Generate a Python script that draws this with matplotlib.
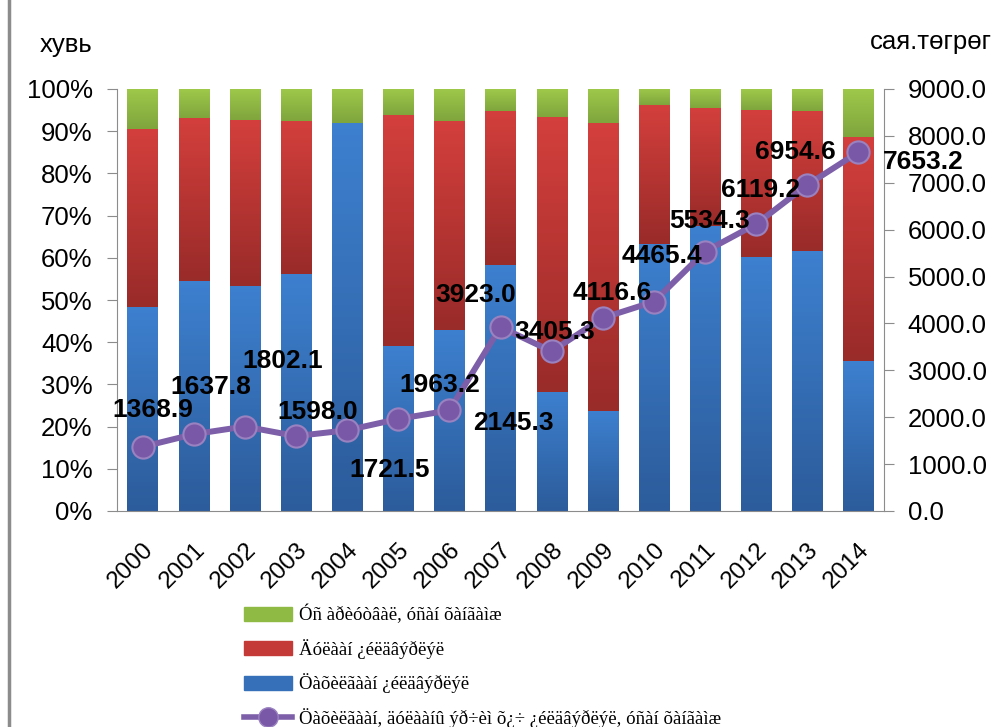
import numpy as np
import matplotlib
matplotlib.use('Agg')
import matplotlib.pyplot as plt
from matplotlib.lines import Line2D
from matplotlib.patches import Patch
from matplotlib.colors import LinearSegmentedColormap
from matplotlib.transforms import ScaledTranslation

years = ["2000", "2001", "2002", "2003", "2004", "2005", "2006", "2007",
         "2008", "2009", "2010", "2011", "2012", "2013", "2014"]
# share of each group, percent
blue_pct = [48.3, 54.5, 53.4, 56.2, 91.9, 39.2, 43.0, 58.3, 28.3, 23.7, 63.3, 67.6, 60.1, 61.5, 35.5]
red_pct = [42.2, 38.7, 39.2, 36.2, 0.0, 54.6, 49.4, 36.5, 65.1, 68.2, 32.9, 28.0, 35.0, 33.3, 53.1]
green_pct = [9.5, 6.8, 7.4, 7.6, 8.1, 6.2, 7.6, 5.2, 6.6, 8.1, 3.8, 4.4, 4.9, 5.2, 11.4]
total = [1368.9, 1637.8, 1802.1, 1598.0, 1721.5, 1963.2, 2145.3, 3923.0,
         3405.3, 4116.6, 4465.4, 5534.3, 6119.2, 6954.6, 7653.2]
# label offsets in pixels
lab_dx = [10, 17, 38, 22, 43, 42, 64, -25, 3, 9, 8, 5, 4, -12, 65]
lab_dy = [37, 47, 66, 24, -40, 34, -13, 32, 19, 25, 46, 31, 34, 33, -10]

names = ["Óñ àðèóòâàë, óñàí õàíãàìæ",
         "Äóëààí ¿éëäâýðëýë",
         "Öàõèëãààí ¿éëäâýðëýë",
         "Öàõèëãààí, äóëààíû ýð÷èì õ¿÷ ¿éëäâýðëýë, óñàí õàíãàìæ"]

plt.rcParams['font.family'] = ['Liberation Sans', 'DejaVu Sans']
FS = 18.5

fig = plt.figure(figsize=(9.95, 7.27), dpi=100)
ax = fig.add_axes([117 / 995, 1 - 511 / 727, 767 / 995, 422 / 727])
ax2 = ax.twinx()

x = np.arange(len(years))
b = np.array(blue_pct)
r = np.array(red_pct)
g = np.array(green_pct)

def grad_bars(vals, bottom, top_c, bot_c):
    bars = ax.bar(x, vals, 0.59, bottom=bottom, color=bot_c, linewidth=0, zorder=2)
    cmap = LinearSegmentedColormap.from_list('g', [bot_c, top_c])
    grad = np.linspace(0, 1, 64).reshape(-1, 1)
    for p in bars:
        if p.get_height() <= 0:
            continue
        x0, y0 = p.get_x(), p.get_y()
        im = ax.imshow(grad, cmap=cmap, origin='lower', aspect='auto',
                       extent=[x0, x0 + p.get_width(), y0, y0 + p.get_height()],
                       zorder=2.1)
        im.set_clip_path(p)
    return bars

grad_bars(b, 0, '#3d80cf', '#2c5c9b')
grad_bars(r, b, '#d33f3c', '#992b29')
grad_bars(g, b + r, '#9ec94a', '#7fa53d')

ax.set_xlim(-0.5, len(years) - 0.5)
ax.set_ylim(0, 100)
ax.set_yticks(np.arange(0, 101, 10))
ax.set_yticklabels(["%d%%" % v for v in range(0, 101, 10)], fontsize=FS)
ax.set_xticks(x)
ax.set_xticklabels(years, rotation=45, ha='right', va='top', fontsize=17.5,
                   rotation_mode='anchor')
shift = ScaledTranslation(-4 / 100, 0, fig.dpi_scale_trans)
for lbl in ax.get_xticklabels():
    lbl.set_transform(lbl.get_transform() + shift)
ax.tick_params(axis='x', length=0, pad=20)
ax.tick_params(axis='y', length=7, color='#8c8c8c', pad=10.5)
for s in ['top', 'right']:
    ax.spines[s].set_visible(False)
for s in ['left', 'bottom']:
    ax.spines[s].set_color('#8c8c8c')

ax2.set_ylim(0, 9000)
ax2.set_yticks(np.arange(0, 9001, 1000))
ax2.set_yticklabels(["%.1f" % v for v in range(0, 9001, 1000)], fontsize=FS)
ax2.tick_params(axis='y', length=7, color='#8c8c8c', pad=10)
for s in ['top', 'left', 'bottom']:
    ax2.spines[s].set_visible(False)
ax2.spines['right'].set_color('#8c8c8c')

ax2.plot(x, total, color='#7c5fa8', lw=4.3, marker='o', markersize=16,
         markerfacecolor='#7a58a8', markeredgecolor='#9a82c0', markeredgewidth=1.5,
         zorder=5)
for i, v in enumerate(total):
    ax2.annotate("%.1f" % v, (x[i], v), xytext=(lab_dx[i], lab_dy[i]),
                 textcoords='offset pixels', ha='center', va='center',
                 fontsize=19, fontweight='bold', zorder=6)

fig.text(40 / 995, 1 - 45 / 727, "хувь", fontsize=FS, va='center', ha='left')
fig.text(870 / 995, 1 - 42 / 727, "сая.төгрөг", fontsize=FS, va='center', ha='left')

handles = [Patch(color='#8fbb45'), Patch(color='#c33a37'), Patch(color='#3670b8'),
           Line2D([], [], color='#7c5fa8', lw=4, marker='o', markersize=14,
                  markerfacecolor='#7a58a8', markeredgecolor='#9a82c0')]
fig.legend(handles, names, loc='upper left', bbox_to_anchor=(240 / 995, 1 - 601 / 727),
           frameon=False, prop={'family': 'Liberation Serif', 'size': 13.6},
           handlelength=2.55, handleheight=0.75, labelspacing=0.78, handletextpad=0.35,
           borderaxespad=0, borderpad=0.2)

fig.add_artist(Line2D([9 / 995, 9 / 995], [0, 1], color='#8c8c8c', lw=2.5))

fig.savefig('out.png', dpi=100)
